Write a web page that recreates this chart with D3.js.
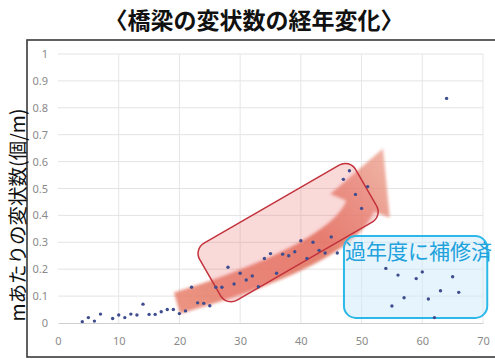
<!DOCTYPE html>
<html>
<head>
<meta charset="utf-8">
<script src="https://cdn.jsdelivr.net/npm/d3@7/dist/d3.min.js"></script>
<style>
  html, body { margin: 0; padding: 0; background: #fff; }
  svg { display: block; }
</style>
</head>
<body>
<svg id="chart" width="495" height="359"></svg>
<script>
// Bridge age (years) and number of defects per metre
const ageYears = [4, 5, 6, 7, 9, 10, 11, 12, 13, 14, 15, 16, 17, 18, 19, 20,
  21, 22, 23, 24, 25, 26, 27, 28, 29, 30, 31, 32, 33, 34, 35, 36, 37, 38, 39, 40,
  41, 42, 43, 44, 45, 46, 47, 48, 49, 50, 51,
  54, 55, 56, 57, 59, 60, 61, 62, 63, 64, 65, 66];
const defectsPerMeter = [0.005, 0.02, 0.007, 0.033, 0.017, 0.03, 0.02, 0.033, 0.03, 0.07, 0.032, 0.032, 0.042, 0.05, 0.05, 0.035,
  0.045, 0.133, 0.075, 0.073, 0.064, 0.133, 0.133, 0.207, 0.145, 0.185, 0.16, 0.175, 0.135, 0.24, 0.258, 0.185, 0.256, 0.25, 0.265, 0.306,
  0.24, 0.30, 0.27, 0.26, 0.32, 0.26, 0.534, 0.566, 0.478, 0.426, 0.507,
  0.203, 0.063, 0.178, 0.094, 0.165, 0.19, 0.089, 0.02, 0.12, 0.835, 0.172, 0.114];

const xTickValues = [0, 10, 20, 30, 40, 50, 60, 70];
const yTickValues = [0, 0.1, 0.2, 0.3, 0.4, 0.5, 0.6, 0.7, 0.8, 0.9, 1];
const yTickLabels = ["0", "0.1", "0.2", "0.3", "0.4", "0.5", "0.6", "0.7", "0.8", "0.9", "1"];

const titleText = "〈橋梁の変状数の経年変化〉";
const yAxisTitle = "mあたりの変状数(個/m)";
const repairedLabel = "過年度に補修済";

// Annotation anchors, in data units
const trendArrowCurve = [[19.6, 0.074], [46.6, 0.257], [49.75, 0.435]]; // tail, control, head base
const trendBoxCenter = [37.9, 0.336];
const repairedBoxX = [47.1, 70.7];
const repairedBoxY = [0.019, 0.323];

const svg = d3.select("#chart");
const x = d3.scaleLinear().domain([0, 70]).range([58, 483]);
const y = d3.scaleLinear().domain([0, 1]).range([323, 54]);

const defs = svg.append("defs");
defs.append("filter").attr("id", "soft")
  .attr("x", "-20%").attr("y", "-20%").attr("width", "140%").attr("height", "140%")
  .append("feGaussianBlur").attr("stdDeviation", 1.4);

// Outer frame
svg.append("rect")
  .attr("x", 27).attr("y", 40).attr("width", 475).attr("height", 317)
  .attr("fill", "none").attr("stroke", "#3a3a3a").attr("stroke-width", 1.6);

// Title
svg.append("text")
  .attr("x", 254).attr("y", 29)
  .attr("text-anchor", "middle")
  .attr("font-family", "'Noto Sans CJK JP', sans-serif")
  .attr("font-size", 23).attr("font-weight", "bold")
  .attr("fill", "#111")
  .text(titleText);

// Y axis title
svg.append("text")
  .attr("transform", "translate(16,215) rotate(-90)")
  .attr("text-anchor", "middle")
  .attr("dominant-baseline", "central")
  .attr("font-family", "'Noto Sans CJK JP', sans-serif")
  .attr("font-size", 19.5)
  .attr("fill", "#111")
  .text(yAxisTitle);

// Gridlines
const grid = svg.append("g");
grid.selectAll("line.h").data(yTickValues.slice(1)).join("line")
  .attr("x1", x(0)).attr("x2", x(70))
  .attr("y1", d => y(d)).attr("y2", d => y(d))
  .attr("stroke", "#e3e3e3").attr("stroke-width", 1);
grid.selectAll("line.v").data(xTickValues.slice(1)).join("line")
  .attr("x1", d => x(d)).attr("x2", d => x(d))
  .attr("y1", y(0)).attr("y2", y(1))
  .attr("stroke", "#e6e6e6").attr("stroke-width", 1);

// X axis (baseline + labels)
const xAxis = d3.axisBottom(x).tickValues(xTickValues).tickSize(0).tickPadding(14).tickFormat(d3.format("d"));
const gx = svg.append("g").attr("transform", `translate(0,${y(0)})`).call(xAxis);
gx.select(".domain").attr("stroke", "#cfcfcf");
gx.selectAll("text").attr("fill", "#8a8a8a").attr("font-size", 11)
  .attr("font-family", "'Noto Sans', sans-serif");

// Y axis labels
const yAxis = d3.axisLeft(y).tickValues(yTickValues).tickSize(0).tickPadding(10)
  .tickFormat((d, i) => yTickLabels[i]);
const gy = svg.append("g").attr("transform", `translate(${x(0)},0)`).call(yAxis);
gy.select(".domain").remove();
gy.selectAll("text").attr("fill", "#8a8a8a").attr("font-size", 11)
  .attr("font-family", "'Noto Sans', sans-serif");

// Trend arrow: curved band with a triangular head
(function drawArrow() {
  const P = trendArrowCurve.map(([a, b]) => [x(a), y(b)]);
  const bez = t => [
    (1 - t) * (1 - t) * P[0][0] + 2 * (1 - t) * t * P[1][0] + t * t * P[2][0],
    (1 - t) * (1 - t) * P[0][1] + 2 * (1 - t) * t * P[1][1] + t * t * P[2][1]
  ];
  const der = t => [
    2 * (1 - t) * (P[1][0] - P[0][0]) + 2 * t * (P[2][0] - P[1][0]),
    2 * (1 - t) * (P[1][1] - P[0][1]) + 2 * t * (P[2][1] - P[1][1])
  ];
  const left = [], right = [];
  const N = 40;
  for (let i = 0; i <= N; i++) {
    const t = i / N;
    const p = bez(t), d = der(t);
    const len = Math.hypot(d[0], d[1]);
    const n = [-d[1] / len, d[0] / len];
    const w = 11 + 4 * t;
    left.push([p[0] + n[0] * w, p[1] + n[1] * w]);
    right.push([p[0] - n[0] * w, p[1] - n[1] * w]);
  }
  const end = bez(1), d1 = der(1);
  const l1 = Math.hypot(d1[0], d1[1]);
  const u = [d1[0] / l1, d1[1] / l1];
  const n1 = [-u[1], u[0]];
  const headHalf = 32, headLen = 62;
  const barbA = [end[0] + n1[0] * headHalf, end[1] + n1[1] * headHalf];
  const barbB = [end[0] - n1[0] * headHalf, end[1] - n1[1] * headHalf];
  const tip = [end[0] + u[0] * headLen, end[1] + u[1] * headLen];
  const pts = left.concat([barbA, tip, barbB], right.reverse());

  const grad = defs.append("linearGradient").attr("id", "arrowGrad")
    .attr("gradientUnits", "userSpaceOnUse")
    .attr("x1", P[0][0]).attr("y1", P[0][1]).attr("x2", tip[0]).attr("y2", tip[1]);
  grad.append("stop").attr("offset", "0").attr("stop-color", "#e8806c").attr("stop-opacity", 0.85);
  grad.append("stop").attr("offset", "0.6").attr("stop-color", "#df6a55").attr("stop-opacity", 0.85);
  grad.append("stop").attr("offset", "1").attr("stop-color", "#eb9a88").attr("stop-opacity", 0.75);

  svg.append("path")
    .attr("d", d3.line()(pts) + "Z")
    .attr("fill", "url(#arrowGrad)")
    .attr("filter", "url(#soft)");
})();

// Rotated rounded box around the rising trend
svg.append("rect")
  .attr("x", -90).attr("y", -33).attr("width", 180).attr("height", 66)
  .attr("rx", 12).attr("ry", 12)
  .attr("transform", `translate(${x(trendBoxCenter[0])},${y(trendBoxCenter[1])}) rotate(-30)`)
  .attr("fill", "rgba(238,120,120,0.28)")
  .attr("stroke", "#c3323c").attr("stroke-width", 1.5);

// Box for already-repaired bridges
svg.append("rect")
  .attr("x", x(repairedBoxX[0])).attr("y", y(repairedBoxY[1]))
  .attr("width", x(repairedBoxX[1]) - x(repairedBoxX[0]))
  .attr("height", y(repairedBoxY[0]) - y(repairedBoxY[1]))
  .attr("rx", 12).attr("ry", 12)
  .attr("fill", "rgba(205,236,252,0.5)")
  .attr("stroke", "#2cb8e8").attr("stroke-width", 2);

// Scatter points
svg.append("g").selectAll("circle")
  .data(ageYears.map((a, i) => [a, defectsPerMeter[i]]))
  .join("circle")
  .attr("cx", d => x(d[0])).attr("cy", d => y(d[1]))
  .attr("r", 1.7)
  .attr("fill", "#3f4d8e");

// Label for the repaired group
svg.append("text")
  .attr("x", x(repairedBoxX[0]) + 1).attr("y", y(repairedBoxY[1]) + 23)
  .attr("font-family", "'Noto Sans CJK JP', sans-serif")
  .attr("font-size", 21)
  .attr("fill", "#21a2dc")
  .text(repairedLabel);
</script>
</body>
</html>
